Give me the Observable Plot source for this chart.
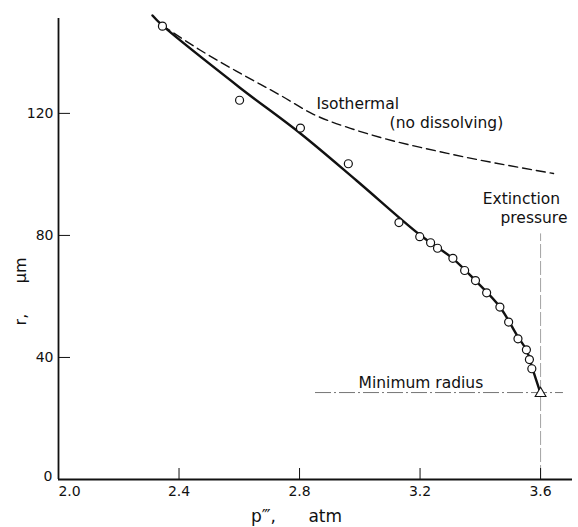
<!DOCTYPE html>
<html><head><meta charset="utf-8">
<script src="https://cdn.jsdelivr.net/npm/d3@7"></script>
<script src="https://cdn.jsdelivr.net/npm/@observablehq/plot@0.6"></script>
<style>
body{margin:0;background:#fff;}
#chart svg{display:block;}
</style></head><body><div id="chart"></div>
<script>
// Tick values
const xTicks = [2.0, 2.4, 2.8, 3.2, 3.6];
const yTicks = [0, 40, 80, 120];

// Measured bubble radii (circles)
const circleP = [2.345, 2.601, 2.803, 2.962, 3.130, 3.199, 3.235, 3.258, 3.309, 3.348, 3.384, 3.421, 3.465, 3.494, 3.525, 3.553, 3.563, 3.571];
const circleR = [148.6, 124.3, 115.2, 103.5, 84.2, 79.6, 77.6, 75.8, 72.5, 68.5, 65.2, 61.2, 56.5, 51.6, 46.1, 42.5, 39.3, 36.3];

// Solid (computed) curve
const fitP = [2.312, 2.344, 2.601, 2.803, 2.989, 3.198, 3.308, 3.384, 3.464, 3.524, 3.554, 3.573, 3.600];
const fitR = [152.1, 148.9, 128.5, 113.4, 98.0, 80.3, 72.5, 65.2, 56.7, 46.9, 42.3, 36.4, 28.2];

// Dashed isothermal (no dissolving) curve
const isoP = [2.344, 2.471, 2.604, 2.737, 2.846, 2.969, 3.069, 3.291, 3.643];
const isoR = [148.9, 140.7, 133.1, 125.9, 119.7, 115.1, 112.1, 106.9, 100.3];

// Extinction point
const extinctionP = 3.6;
const minRadius = 28.2;

// Annotations
const noteText = ["Isothermal", "(no dissolving)", "Extinction", "pressure", "Minimum radius"];
const noteP = [2.856, 3.099, 3.408, 3.467, 2.996];
const noteR = [121.3, 115.1, 90.4, 84.1, 30.1];

const circles = circleP.map((p, i) => ({p, r: circleR[i]}));
const fit = fitP.map((p, i) => ({p, r: fitR[i]}));
const iso = isoP.map((p, i) => ({p, r: isoR[i]}));
const notes = noteText.map((t, i) => ({t, p: noteP[i], r: noteR[i]}));

const ink = "#111";
const chart = Plot.plot({
  width: 578, height: 527,
  marginLeft: 58, marginRight: 6, marginTop: 18, marginBottom: 48,
  style: {fontFamily: "DejaVu Sans", fontSize: "14px", color: ink, background: "#fff", overflow: "visible"},
  x: {domain: [2.0, 3.706], label: null},
  y: {domain: [0, 151.1], label: null},
  marks: [
    Plot.ruleX([extinctionP], {y1: 0, y2: 80.5, stroke: "#999", strokeWidth: 0.9, strokeDasharray: "14,3"}),
    Plot.ruleY([minRadius + 0.3], {x1: 2.853, x2: 3.676, stroke: "#666", strokeWidth: 0.9, strokeDasharray: "16,3,2,3"}),
    Plot.line(iso, {x: "p", y: "r", stroke: ink, strokeWidth: 1.4, strokeDasharray: "9,5", curve: "monotone-x"}),
    Plot.line(fit, {x: "p", y: "r", stroke: ink, strokeWidth: 2.4, curve: "catmull-rom"}),
    Plot.dot(circles, {x: "p", y: "r", r: 4, fill: "white", stroke: ink, strokeWidth: 1.2}),
    Plot.dot([{p: extinctionP, r: minRadius}], {x: "p", y: "r", symbol: "triangle", r: 4, fill: "white", stroke: ink, strokeWidth: 1.1}),
    Plot.ruleX([2.0], {stroke: ink, strokeWidth: 1.8}),
    Plot.ruleY([0], {stroke: ink, strokeWidth: 1.8}),
    Plot.axisX(xTicks.slice(1), {tickSize: -11, tickPadding: 18, label: null, fontSize: 14}),
    Plot.axisX([xTicks[0]], {tickSize: 0, tickPadding: 7, dx: 11, label: null, fontSize: 14}),
    Plot.axisY(yTicks.slice(1), {tickSize: -12, tickPadding: 17, label: null, fontSize: 14}),
    Plot.axisY([yTicks[0]], {tickSize: 0, tickPadding: 6, dy: -3, label: null, fontSize: 14}),
    Plot.text(notes, {x: "p", y: "r", text: "t", textAnchor: "start", lineAnchor: "bottom", fontSize: 15.5, fill: ink}),
    Plot.text(["p\u2034,\u00a0\u00a0\u00a0\u00a0\u00a0\u00a0atm"], {x: 2.79, frameAnchor: "bottom", dy: 42, lineAnchor: "bottom", fontSize: 17, fill: ink}),
    Plot.text(["r,\u00a0\u00a0\u00a0\u00a0\u00a0\u00a0\u03bcm"], {frameAnchor: "left", y: 50.5, dx: -38, rotate: -90, fontSize: 16, fill: ink})
  ]
});
document.getElementById("chart").append(chart);
</script>
</body></html>
